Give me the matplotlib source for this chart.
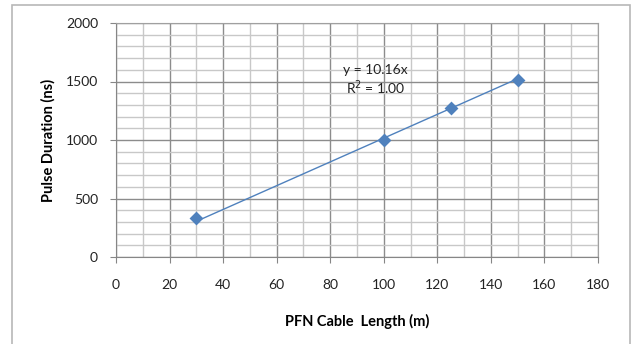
import numpy as np
import matplotlib
matplotlib.use("Agg")
import matplotlib.pyplot as plt
from matplotlib.ticker import MultipleLocator
from matplotlib.patches import Rectangle

# Data
cable_length = [30, 100, 125, 150]
pulse_duration = [330, 1000, 1275, 1512]
slope = 10.16
trend_label = "y = 10.16x\nR$^2$ = 1.00"

plt.rcParams['font.family'] = ['Lato', 'DejaVu Sans']

fig = plt.figure(figsize=(6.31, 3.44), dpi=100)
ax = fig.add_axes([116 / 631, 1 - 257 / 344, 482 / 631, 234 / 344])

# outer chart border
fig.patches.append(Rectangle((12 / 631, -0.05), 618 / 631, 1 - 5 / 344 + 0.05,
                             transform=fig.transFigure, fill=False,
                             edgecolor='#b8b8b8', linewidth=1.2))

ax.set_xlim(0, 180)
ax.set_ylim(0, 2000)
ax.xaxis.set_major_locator(MultipleLocator(20))
ax.xaxis.set_minor_locator(MultipleLocator(10))
ax.yaxis.set_major_locator(MultipleLocator(500))
ax.yaxis.set_minor_locator(MultipleLocator(100))
ax.grid(which='major', color='#8c8c8c', linewidth=1.0)
ax.grid(which='minor', color='#c8c8c8', linewidth=1.0)
ax.set_axisbelow(True)

for side in ['top', 'right']:
    ax.spines[side].set_color('#a0a0a0')
for side in ['left', 'bottom']:
    ax.spines[side].set_color('#868686')

ax.tick_params(which='major', direction='out', length=4, color='#868686',
               labelsize=10, labelcolor='#222222')
ax.tick_params(axis='x', pad=12)
ax.tick_params(axis='y', pad=9)
ax.tick_params(which='minor', length=0)

# trendline through origin
xs = np.array([min(cable_length), max(cable_length)])
ax.plot(xs, slope * xs, color='#4f81bd', linewidth=1.0, zorder=3)
ax.scatter(cable_length, pulse_duration, marker='D', s=50, color='#4f81bd',
           zorder=4, linewidths=0)

ax.text(97, 1510, trend_label, ha='center', va='center', fontsize=10,
        color='#222222', linespacing=1.15, transform=ax.transData)

ax.set_xlabel('PFN Cable  Length (m)', fontsize=10.5, fontweight='bold', labelpad=16)
ax.set_ylabel('Pulse Duration (ns)', fontsize=10.5, fontweight='bold', labelpad=7)

fig.savefig('out.png', dpi=100)
